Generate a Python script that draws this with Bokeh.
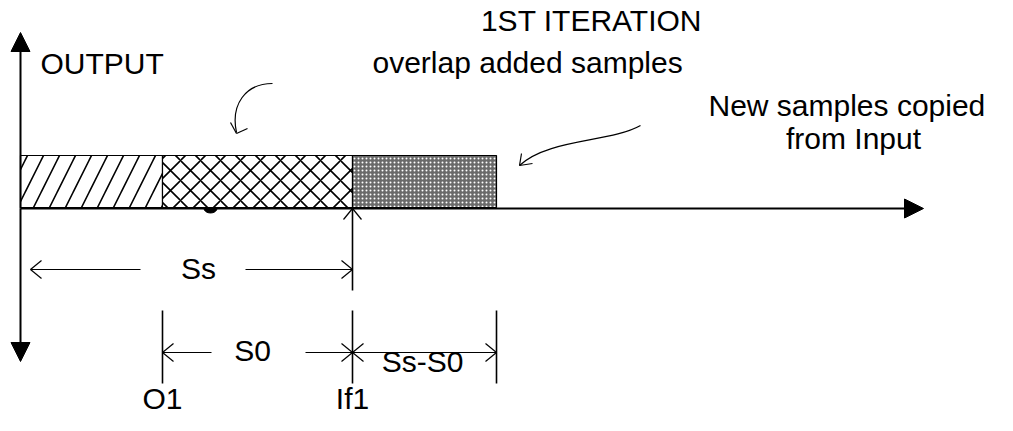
from bokeh.plotting import figure
from bokeh.models import Range1d, Arrow, NormalHead, ColumnDataSource
from bokeh.core.properties import value
from bokeh.embed import file_html
from bokeh.resources import INLINE

# ---- diagram data (positions along the output sample axis) ----
edges = [20, 162, 352, 496]            # segment boundaries: start, O1, If1, end of new samples
seg_fill = ["white", "white", "#6a6a6a"]
seg_hatch = ["right_diagonal_line", "diagonal_cross", "dot"]
seg_hatch_color = ["black", "black", "white"]
seg_hatch_scale = [32, 20, 4]
seg_hatch_weight = [1.6, 1.6, 1.0]
bar_top, bar_bottom = 155, 207
axis_y = 208

titles = ["1ST ITERATION", "OUTPUT", "overlap added samples", "New samples copied", "from Input"]
title_x = [591, 40, 372, 708, 853]
title_y = [20, 63, 62, 105, 138]
title_align = ["center", "left", "left", "left", "center"]

dim_labels = ["Ss", "S0", "Ss-S0"]
dim_label_x = [198, 252, 422]
dim_label_y = [268, 350, 361]

marker_labels = ["O1", "If1"]
marker_x = [edges[1], edges[2]]
marker_y = [398, 398]

FONT = value("Liberation Sans")
FS = "30px"

W, H = 997, 415
p = figure(width=W, height=H, x_range=Range1d(0, W), y_range=Range1d(H, 0),
           output_backend="svg", toolbar_location=None, min_border=0,
           x_axis_location=None, y_axis_location=None)
p.grid.visible = False
p.outline_line_color = None
p.background_fill_color = "white"

# small half-dot under the overlap segment
p.ellipse(x=[210], y=[axis_y], width=13, height=9, fill_color="black", line_color="black")

# segments
src = ColumnDataSource(dict(left=edges[:-1], right=edges[1:], fill=seg_fill, hatch=seg_hatch,
                            hcol=seg_hatch_color, hscale=seg_hatch_scale, hw=seg_hatch_weight))
p.quad(left="left", right="right", top=bar_top, bottom=bar_bottom, source=src,
       fill_color="fill", hatch_pattern="hatch", hatch_color="hcol", hatch_scale="hscale",
       hatch_weight="hw", line_color="black", line_width=1.2)

# axes with filled arrowheads
ax0 = edges[0]
for (xs, ys, xe, ye) in [(ax0, axis_y, ax0, 32), (ax0, axis_y, ax0, 361), (ax0, axis_y, 923, axis_y)]:
    p.add_layout(Arrow(x_start=xs, y_start=ys, x_end=xe, y_end=ye, line_width=2, line_color="black",
                       end=NormalHead(size=19, fill_color="black", line_color="black", line_width=1)))

# extension lines
p.segment(x0=[edges[2], edges[1], edges[2], edges[3]], y0=[axis_y, 310, 310, 310],
          x1=[edges[2], edges[1], edges[2], edges[3]], y1=[290, 383, 383, 383],
          line_color="black", line_width=1.6)

# dimension lines
ss_y, s0_y = 269, 352
p.segment(x0=[30, 245, edges[1], 305, edges[2]], y0=[ss_y, ss_y, s0_y, s0_y, s0_y],
          x1=[140, edges[2], 211, edges[2], edges[3]], y1=[ss_y, ss_y, s0_y, s0_y, s0_y],
          line_color="black", line_width=1.2)

# open chevron heads: tip x, tip y, direction (+1 pointing right, -1 left)
tips_x = [30, edges[2], edges[1], edges[2], edges[2], edges[3]]
tips_y = [ss_y, ss_y, s0_y, s0_y, s0_y, s0_y]
tips_d = [-1, 1, -1, 1, -1, 1]
bx0, by0, bx1, by1 = [], [], [], []
for tx, ty, d in zip(tips_x, tips_y, tips_d):
    for s in (-1, 1):
        bx0.append(tx); by0.append(ty)
        bx1.append(tx - d * 11); by1.append(ty + s * 9)
# upward chevron at If1 on the axis
for s in (-1, 1):
    bx0.append(edges[2]); by0.append(axis_y)
    bx1.append(edges[2] + s * 9); by1.append(axis_y + 11)
p.segment(x0=bx0, y0=by0, x1=bx1, y1=by1, line_color="black", line_width=1.2)

# curved pointer arrows
p.bezier(x0=[272, 640], y0=[83, 125], x1=[236, 519], y1=[132, 165],
         cx0=[245, 610], cy0=[83, 142], cx1=[230, 548], cy1=[104, 138],
         line_color="black", line_width=1.2)
p.segment(x0=[236, 236, 519, 519], y0=[133, 133, 165, 165],
          x1=[230, 247, 521, 532], y1=[122, 128, 153, 163],
          line_color="black", line_width=1.2)

# texts
p.text(x=title_x, y=title_y, text=titles, text_align=title_align, text_baseline="middle",
       text_font=FONT, text_font_size=FS, text_color="black")
p.text(x=dim_label_x, y=dim_label_y, text=dim_labels, text_align="center", text_baseline="middle",
       text_font=FONT, text_font_size=FS, text_color="black")
p.text(x=marker_x, y=marker_y, text=marker_labels, text_align="center", text_baseline="middle",
       text_font=FONT, text_font_size=FS, text_color="black")

open("out.html", "w").write(file_html(p, INLINE))
